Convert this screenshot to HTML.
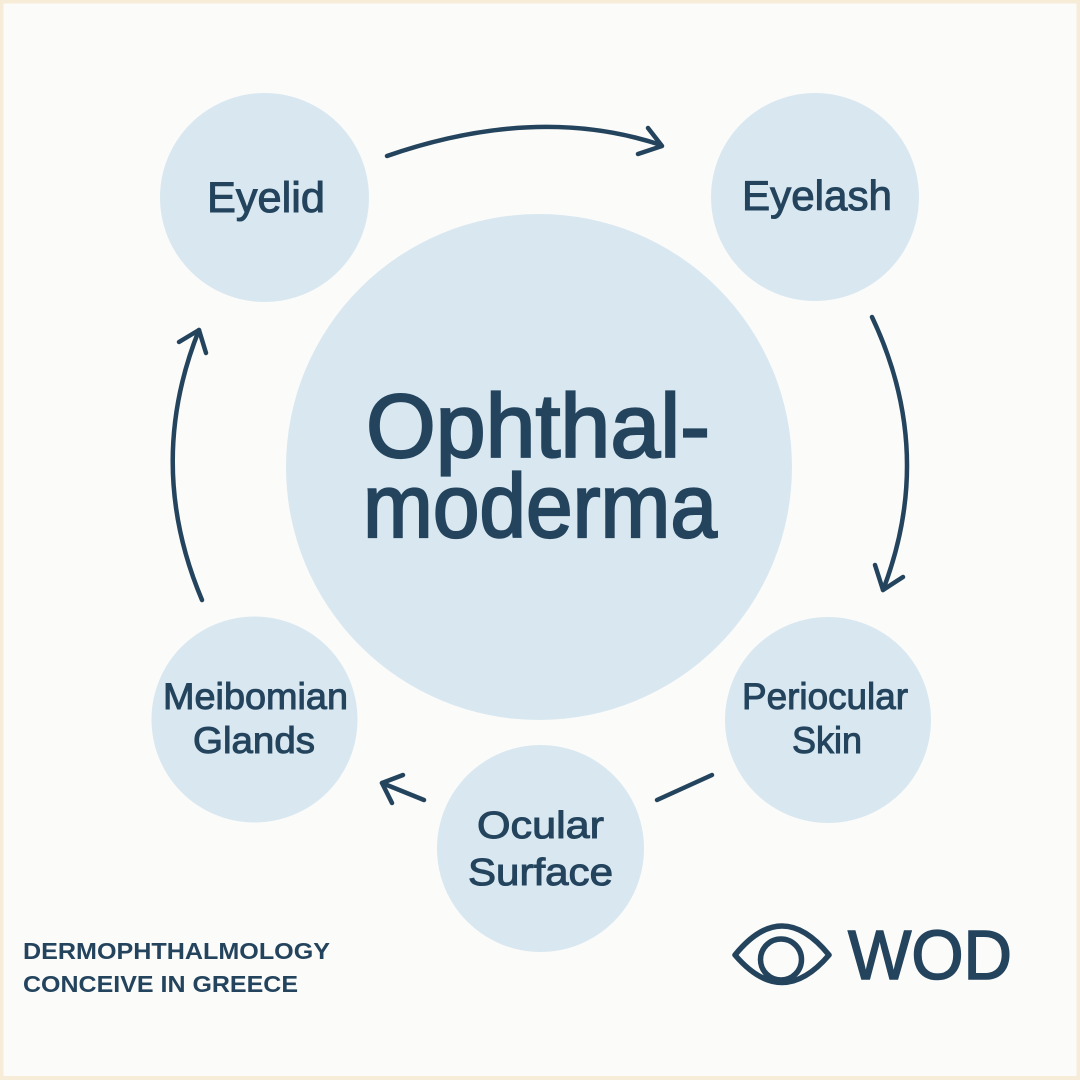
<!DOCTYPE html>
<html>
<head>
<meta charset="utf-8">
<style>
  html, body { margin: 0; padding: 0; }
  body { width: 1080px; height: 1080px; overflow: hidden; background: #fbfbfa; }
  svg { display: block; }
  .lbl { font-family: "Liberation Sans", sans-serif; fill: #24445e; stroke: #24445e; stroke-width: 1px; }
  .title { font-family: "Liberation Sans", sans-serif; fill: #24445e; stroke: #24445e; stroke-width: 2.2px; }
  .foot { font-family: "Liberation Sans", sans-serif; font-weight: bold; fill: #24445e; }
  .arr { fill: none; stroke: #24445e; stroke-width: 4.5; stroke-linecap: round; stroke-linejoin: round; }
</style>
</head>
<body>
<svg width="1080" height="1080" viewBox="0 0 1080 1080" xmlns="http://www.w3.org/2000/svg">
  <rect x="0" y="0" width="1080" height="1080" fill="#f6ecd8"/>
  <rect x="3.5" y="3.5" width="1073" height="1072.5" fill="#fbfbfa"/>

  <!-- circles -->
  <g fill="#d9e8f0">
    <circle cx="539" cy="467" r="253"/>
    <circle cx="264.5" cy="197.5" r="104.5"/>
    <circle cx="815" cy="197" r="104"/>
    <circle cx="828" cy="720" r="103"/>
    <circle cx="540.5" cy="848.5" r="103.5"/>
    <circle cx="254.5" cy="719.5" r="103"/>
  </g>

  <!-- arrows -->
  <path class="arr" d="M387 156 Q537 104 661 145"/>
  <path class="arr" d="M648 128 L662 146 L638 154"/>

  <path class="arr" d="M872 317 Q936 452 883 590"/>
  <path class="arr" d="M875 565 L883 590 L903 577"/>

  <path class="arr" d="M202 600 Q145 465 199 330"/>
  <path class="arr" d="M179 342 L199 330 L206 353"/>

  <path class="arr" d="M657 800 L712 775"/>
  <path class="arr" d="M424 800 L382 783"/>
  <path class="arr" d="M403 775 L382 783 L392 803"/>

  <!-- center title -->
  <text class="title" x="366" y="457" font-size="90" textLength="344" lengthAdjust="spacingAndGlyphs">Ophthal-</text>
  <text class="title" x="363" y="537" font-size="90" textLength="354" lengthAdjust="spacingAndGlyphs">moderma</text>

  <!-- labels -->
  <text class="lbl" x="207" y="212" font-size="43" textLength="118" lengthAdjust="spacingAndGlyphs">Eyelid</text>
  <text class="lbl" x="742" y="210" font-size="42" textLength="150" lengthAdjust="spacingAndGlyphs">Eyelash</text>
  <text class="lbl" x="163" y="709" font-size="37" textLength="185" lengthAdjust="spacingAndGlyphs">Meibomian</text>
  <text class="lbl" x="193" y="753" font-size="37" textLength="122" lengthAdjust="spacingAndGlyphs">Glands</text>
  <text class="lbl" x="742" y="709" font-size="37" textLength="166" lengthAdjust="spacingAndGlyphs">Periocular</text>
  <text class="lbl" x="792" y="753" font-size="37" textLength="70" lengthAdjust="spacingAndGlyphs">Skin</text>
  <text class="lbl" x="477" y="838" font-size="38" textLength="127" lengthAdjust="spacingAndGlyphs">Ocular</text>
  <text class="lbl" x="468" y="885" font-size="38" textLength="145" lengthAdjust="spacingAndGlyphs">Surface</text>

  <!-- footer -->
  <text class="foot" x="23" y="959" font-size="23" textLength="307" lengthAdjust="spacingAndGlyphs">DERMOPHTHALMOLOGY</text>
  <text class="foot" x="23" y="992" font-size="23" textLength="275" lengthAdjust="spacingAndGlyphs">CONCEIVE IN GREECE</text>

  <!-- WOD logo -->
  <g fill="none" stroke="#24445e" stroke-width="5.5" stroke-linejoin="round" stroke-linecap="round">
    <path d="M735 955 Q782 897 829 955 Q782 1010 735 955 Z"/>
    <circle cx="781" cy="959.5" r="20.5"/>
  </g>
  <text x="848" y="979" font-size="70" textLength="164" lengthAdjust="spacingAndGlyphs" font-family="Liberation Sans, sans-serif" fill="#24445e" stroke="#24445e" stroke-width="1.6">WOD</text>
</svg>
</body>
</html>
